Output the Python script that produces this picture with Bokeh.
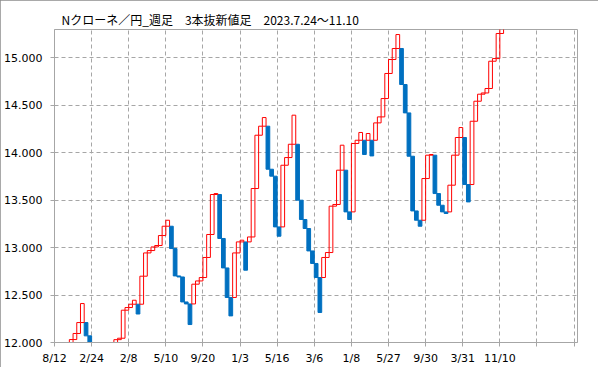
from bokeh.plotting import figure
from bokeh.models import Range1d, FixedTicker, NumeralTickFormatter, ColumnDataSource
from bokeh.embed import file_html
from bokeh.resources import INLINE

# ---- data: closing value of each three-line-break brick (weekly NOK/JPY) ----
closes = [
    11.70, 11.78, 11.85, 11.95, 12.031, 12.095, 12.210, 12.410, 12.070, 11.95,
    11.88, 11.80, 11.76, 11.86, 11.92, 11.97, 12.030, 12.045, 12.340, 12.368,
    12.403, 12.445, 12.300, 12.698, 12.943, 12.968, 13.006, 13.021, 13.126, 13.224,
    13.287, 12.989, 12.701, 12.690, 12.427, 12.406, 12.189, 12.614, 12.648, 12.684,
    12.895, 13.137, 13.558, 13.568, 13.095, 12.785, 12.474, 12.280, 12.943, 13.059,
    13.077, 12.761, 13.111, 13.621, 14.182, 14.277, 14.368, 13.824, 13.751, 13.217,
    13.119, 13.866, 13.947, 14.087, 14.393, 13.498, 13.295, 13.200, 12.964, 12.832,
    12.684, 12.316, 12.895, 12.947, 13.435, 13.453, 13.814, 14.077, 13.375, 13.295,
    14.095, 14.129, 14.211, 13.979, 14.200, 13.964, 14.312, 14.375, 14.568, 14.832,
    14.979, 15.095, 15.242, 14.716, 14.417, 13.961, 13.385, 13.287, 13.224, 13.726,
    13.972, 13.979, 13.568, 13.445, 13.375, 13.358, 13.656, 13.972, 14.158, 14.263,
    13.663, 13.480, 14.329, 14.540, 14.614, 14.627, 14.674, 14.961, 14.989, 15.253,
    15.400,
]
first_open = 11.60

x_tick_positions = [0, 10, 20, 30, 40, 50, 60, 70, 80, 90, 100, 110, 120, 130, 140]
x_tick_labels = ["8/12", "2/24", "2/8", "5/10", "9/20", "1/3", "5/16", "3/6",
                 "1/8", "5/27", "9/30", "3/31", "11/10", "", ""]
y_ticks = [12.0, 12.5, 13.0, 13.5, 14.0, 14.5, 15.0]

title_text = "Nクローネ／円_週足　3本抜新値足　2023.7.24〜11.10"

# ---- derive brick opens (reversal bricks start from the previous brick's open) ----
opens, dirs = [], []
for i, c in enumerate(closes):
    if i == 0:
        d, o = 1, first_open
    else:
        d = 1 if c > closes[i - 1] else -1
        o = closes[i - 1] if d == dirs[-1] else opens[-1]
    opens.append(o)
    dirs.append(d)

up = dict(left=[], right=[], bottom=[], top=[])
dn = dict(left=[], right=[], bottom=[], top=[])
for i, (o, c, d) in enumerate(zip(opens, closes, dirs)):
    tgt = up if d > 0 else dn
    tgt["left"].append(i)
    tgt["right"].append(i + 1)
    tgt["bottom"].append(min(o, c))
    tgt["top"].append(max(o, c))

p = figure(width=598, height=367, output_backend="svg", toolbar_location=None,
           x_range=Range1d(0, 140.92), y_range=Range1d(12.0, 15.295),
           min_border_left=54, min_border_right=21, min_border_top=29,
           min_border_bottom=25, background_fill_color="white",
           border_fill_color="white",
           styles={"outline": "1px solid #8C8C8C", "outline-offset": "-1px"})

p.quad(left="left", right="right", bottom="bottom", top="top",
       source=ColumnDataSource(dn), fill_color="#0070C0",
       line_color="#0070C0", line_width=1)
p.quad(left="left", right="right", bottom="bottom", top="top",
       source=ColumnDataSource(up), fill_color=None,
       line_color="#FF0000", line_width=1)

# title
p.title.text = title_text
p.title.align = "left"
p.title.offset = 7
p.title.standoff = 3
p.title.text_font = "Noto Sans CJK JP"
p.title.text_font_size = "12px"
p.title.text_font_style = "normal"
p.title.text_color = "#000000"

# axes
gray = "#A6A6A6"
p.xaxis.ticker = FixedTicker(ticks=x_tick_positions)
p.xaxis.major_label_overrides = {t: l for t, l in zip(x_tick_positions, x_tick_labels)}
p.yaxis.ticker = FixedTicker(ticks=y_ticks)
p.yaxis.formatter = NumeralTickFormatter(format="0.000")
for ax in (p.xaxis, p.yaxis):
    ax.axis_line_color = gray
    ax.major_tick_line_color = gray
    ax.minor_tick_line_color = None
    ax.major_tick_in = 0
    ax.major_tick_out = 4
    ax.major_label_text_font = "DejaVu Sans"
    ax.major_label_text_font_size = "11px"
    ax.major_label_text_color = "#000000"
p.xaxis.major_label_standoff = 5
p.yaxis.major_label_standoff = 8

p.grid.grid_line_color = gray
p.grid.grid_line_dash = "4 3"
p.grid.grid_line_width = 1

p.outline_line_color = gray
p.outline_line_width = 1
p.outline_line_alpha = 1

open("out.html", "w").write(file_html(p, INLINE))
